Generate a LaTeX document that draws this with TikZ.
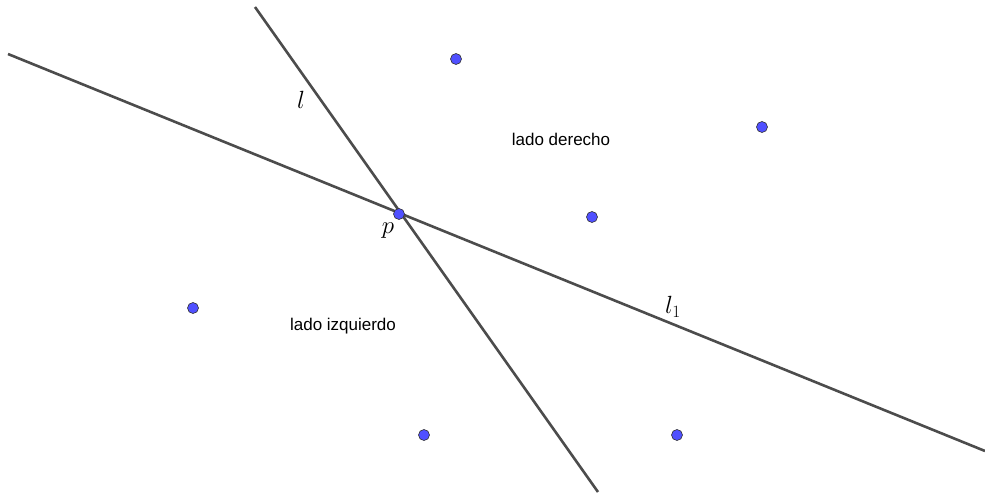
\documentclass[tikz,border=0pt]{standalone}
\usepackage{fontspec}
\setsansfont{Liberation Sans}
\begin{document}
\begin{tikzpicture}[x=1pt,y=-1pt,
  ln/.style={draw=black!70,line width=2.6pt},
  pt/.style={circle,draw=black!80,fill={rgb,255:red,80;green,80;blue,255},inner sep=0pt,minimum size=11pt,line width=0.6pt},
  txt/.style={font=\sffamily\fontsize{17}{20}\selectfont,inner sep=0pt},
  lab/.style={font=\fontsize{25}{28}\selectfont,inner sep=0pt}]
\useasboundingbox (0,0) rectangle (985,498);
\coordinate (la) at (255,7);
\coordinate (lb) at (598,492);
\coordinate (ma) at (8,54);
\coordinate (mb) at (985,451);
\draw[ln] (la) -- (lb);
\draw[ln] (ma) -- (mb);
\node[pt] (p) at (399,214) {};
\node[pt] (a) at (456,59) {};
\node[pt] (b) at (762,127) {};
\node[pt] (c) at (592,217) {};
\node[pt] (d) at (193,308) {};
\node[pt] (e) at (424,435) {};
\node[pt] (f) at (677,435) {};
\node[txt] (t1) at (561,139) {lado derecho};
\node[txt] (t2) at (343,326) {lado izquierdo};
\node[lab] (ll) at (301,100) {$l$};
\node[lab] (lp) at (388,231) {$p$};
\node[lab] (l1) at (673,307) {$l_1$};
\end{tikzpicture}
\end{document}
